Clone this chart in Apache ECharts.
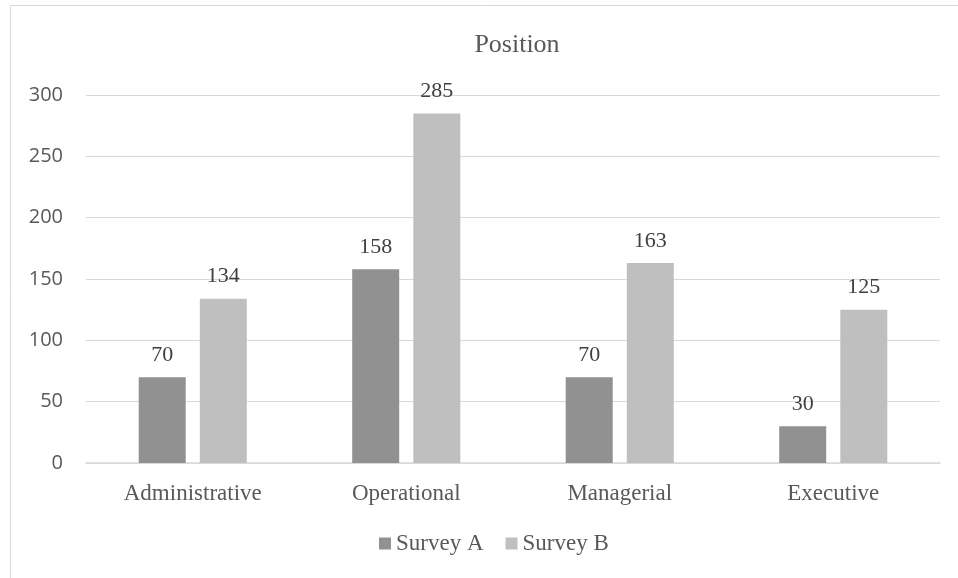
<!DOCTYPE html>
<html>
<head>
<meta charset="utf-8">
<script src="https://cdn.jsdelivr.net/npm/echarts@6/dist/echarts.min.js"></script>
<style>
  html, body { margin: 0; padding: 0; background: #ffffff; }
  #chart { width: 958px; height: 578px; }
</style>
</head>
<body>
<div id="chart"></div>
<script>
// Positions held by respondents in each survey
const categories = ['Administrative', 'Operational', 'Managerial', 'Executive'];
const surveyA = [70, 158, 70, 30];
const surveyB = [134, 285, 163, 125];
const seriesNames = ['Survey A', 'Survey B'];

const serif = '"Liberation Serif", "Times New Roman", serif';
const sans = '"Open Sans", "Liberation Sans", sans-serif';

const chart = echarts.init(document.getElementById('chart'), null, { renderer: 'canvas' });

const labelStyle = {
  show: true,
  position: 'top',
  distance: 11,
  fontFamily: serif,
  fontSize: 22,
  color: '#404040'
};

chart.setOption({
  backgroundColor: '#ffffff',
  animation: false,
  graphic: [{
    type: 'rect',
    shape: { x: 10.5, y: 5.5, width: 960, height: 600 },
    style: { fill: 'none', stroke: '#d9d9d9', lineWidth: 1 },
    silent: true,
    z: -1
  }],
  title: {
    text: 'Position',
    left: 512,
    textAlign: 'center',
    top: 27,
    textStyle: { fontFamily: serif, fontSize: 26, fontWeight: 'normal', color: '#595959' }
  },
  legend: {
    data: seriesNames,
    top: 527,
    left: 374,
    itemWidth: 12,
    itemHeight: 12,
    itemGap: 22,
    icon: 'rect',
    textStyle: { fontFamily: serif, fontSize: 23, color: '#595959', padding: [0, 0, 0, 0] }
  },
  grid: { left: 86, right: 18, top: 95, bottom: 115, containLabel: false },
  xAxis: {
    type: 'category',
    data: categories,
    axisLine: { lineStyle: { color: '#d9d9d9', width: 1.5 } },
    axisTick: { show: false },
    axisLabel: { fontFamily: serif, fontSize: 23, color: '#595959', margin: 19 }
  },
  yAxis: {
    type: 'value',
    min: 0,
    max: 300,
    interval: 50,
    axisLine: { show: false },
    axisTick: { show: false },
    splitLine: { lineStyle: { color: '#d9d9d9', width: 1 } },
    axisLabel: { fontFamily: sans, fontSize: 20, color: '#595959', margin: 23, align: 'right' }
  },
  series: [
    {
      name: seriesNames[0],
      type: 'bar',
      data: surveyA,
      barWidth: 47,
      barGap: '30%',
      itemStyle: { color: '#919191' },
      label: labelStyle
    },
    {
      name: seriesNames[1],
      type: 'bar',
      data: surveyB,
      barWidth: 47,
      barGap: '30%',
      itemStyle: { color: '#bfbfbf' },
      label: labelStyle
    }
  ]
});
</script>
</body>
</html>
